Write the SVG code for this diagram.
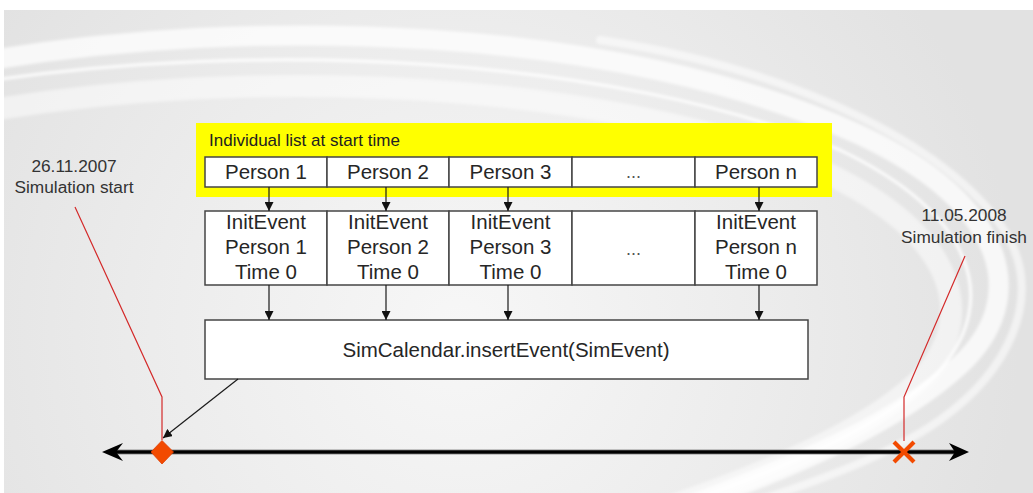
<svg xmlns="http://www.w3.org/2000/svg" width="1033" height="493" viewBox="0 0 1033 493">
  <defs>
    <radialGradient id="bgGlow" cx="460" cy="330" r="560" gradientUnits="userSpaceOnUse">
      <stop offset="0" stop-color="#f7f7f7"/>
      <stop offset="0.55" stop-color="#ececec"/>
      <stop offset="1" stop-color="#e2e2e2"/>
    </radialGradient>
    <marker id="arrow" viewBox="0 0 10 10" refX="10" refY="5" markerWidth="9" markerHeight="9" markerUnits="userSpaceOnUse" orient="auto">
      <path d="M0 0 L10 5 L0 10 Z" fill="#111"/>
    </marker>
    <filter id="soft" x="-10%" y="-10%" width="120%" height="120%">
      <feGaussianBlur stdDeviation="1.5"/>
    </filter>
  </defs>
  <style>
    .box { fill: #ffffff; stroke: #454545; stroke-width: 1.5; }
    .cell { font-family: "Liberation Sans", Arial, sans-serif; font-size: 20.5px; fill: #262626; text-anchor: middle; }
    .dots { font-family: "Liberation Sans", Arial, sans-serif; font-size: 18px; fill: #555; text-anchor: middle; }
    .note { font-family: "Liberation Sans", Arial, sans-serif; font-size: 17.3px; fill: #333; text-anchor: middle; }
    .label { font-family: "Liberation Sans", Arial, sans-serif; font-size: 17px; fill: #222; }
    .conn { stroke: #1a1a1a; stroke-width: 1.2; fill: none; }
    .leader { stroke: #d42a2a; stroke-width: 1.2; fill: none; }
    .swoosh { fill: none; stroke: #ffffff; stroke-linecap: round; }
  </style>

  <!-- backdrop panel with sweeping light bands -->
  <rect x="0" y="0" width="1033" height="493" fill="#ffffff"/>
  <rect x="4" y="10" width="1029" height="483" fill="url(#bgGlow)"/>
  <g filter="url(#soft)">
    <path class="swoosh" stroke-width="20" opacity="0.75" d="M-20 62 C 250 15, 620 25, 860 135 C 1010 205, 1030 300, 960 365 C 900 420, 810 460, 690 505"/>
    <path class="swoosh" stroke-width="3" opacity="0.9" d="M-20 82 C 260 40, 610 55, 840 150 C 975 215, 1000 300, 940 370 C 885 425, 800 462, 680 505"/>
    <path class="swoosh" stroke-width="22" opacity="0.5" d="M-20 112 C 250 65, 600 80, 820 170 C 950 230, 980 310, 925 375 C 875 425, 790 465, 660 510"/>
    <path class="swoosh" stroke-width="8" opacity="0.55" d="M600 40 C 800 70, 960 150, 1010 240 C 1040 300, 1010 370, 940 420 C 890 455, 820 480, 760 500"/>
  </g>
  <rect x="0" y="0" width="1033" height="10" fill="#ffffff"/>
  <rect x="0" y="0" width="4" height="493" fill="#ffffff"/>

  <!-- individual list -->
  <g id="individual-list">
    <rect x="196" y="123" width="636" height="74" fill="#ffff00"/>
    <text class="label" x="209" y="146">Individual list at start time</text>
  </g>
  <g id="person-1">
    <rect class="box" x="205" y="157" width="122" height="30"/>
    <text class="cell" x="266" y="179">Person 1</text>
  </g>
  <g id="person-2">
    <rect class="box" x="327" y="157" width="122" height="30"/>
    <text class="cell" x="388" y="179">Person 2</text>
  </g>
  <g id="person-3">
    <rect class="box" x="449" y="157" width="123" height="30"/>
    <text class="cell" x="510.5" y="179">Person 3</text>
  </g>
  <g id="person-more">
    <rect class="box" x="572" y="157" width="123" height="30"/>
    <text class="dots" x="633.5" y="178">...</text>
  </g>
  <g id="person-n">
    <rect class="box" x="695" y="157" width="122" height="30"/>
    <text class="cell" x="756" y="179">Person n</text>
  </g>

  <!-- init events -->
  <g id="init-1">
    <rect class="box" x="205" y="211" width="122" height="74"/>
    <text class="cell" x="266" y="229">InitEvent</text>
    <text class="cell" x="266" y="254">Person 1</text>
    <text class="cell" x="266" y="279">Time 0</text>
  </g>
  <g id="init-2">
    <rect class="box" x="327" y="211" width="122" height="74"/>
    <text class="cell" x="388" y="229">InitEvent</text>
    <text class="cell" x="388" y="254">Person 2</text>
    <text class="cell" x="388" y="279">Time 0</text>
  </g>
  <g id="init-3">
    <rect class="box" x="449" y="211" width="123" height="74"/>
    <text class="cell" x="510.5" y="229">InitEvent</text>
    <text class="cell" x="510.5" y="254">Person 3</text>
    <text class="cell" x="510.5" y="279">Time 0</text>
  </g>
  <g id="init-more">
    <rect class="box" x="572" y="211" width="123" height="74"/>
    <text class="dots" x="633.5" y="255">...</text>
  </g>
  <g id="init-n">
    <rect class="box" x="695" y="211" width="122" height="74"/>
    <text class="cell" x="756" y="229">InitEvent</text>
    <text class="cell" x="756" y="254">Person n</text>
    <text class="cell" x="756" y="279">Time 0</text>
  </g>

  <!-- calendar insertion -->
  <g id="sim-calendar">
    <rect class="box" x="205" y="320" width="603" height="59"/>
    <text class="cell" x="506" y="357">SimCalendar.insertEvent(SimEvent)</text>
  </g>

  <!-- time axis -->
  <g id="timeline">
    <line x1="110" y1="452" x2="962" y2="452" stroke="#888" stroke-width="6" opacity="0.45"/>
    <line x1="110" y1="452" x2="962" y2="452" stroke="#000" stroke-width="3.5"/>
    <path d="M102 452 L123 443 L116 452 L123 461 Z" fill="#000"/>
    <path d="M969 452 L949 443 L955 452 L949 461 Z" fill="#000"/>
  </g>

  <g id="sim-start">
    <text class="note" x="74" y="172">26.11.2007</text>
    <text class="note" x="74" y="193">Simulation start</text>
    <path d="M151 452 L162 440.5 L173.5 452 L162 464 Z" fill="#f24a00" stroke="#e03c00" stroke-width="0.8"/>
  </g>

  <g id="sim-finish">
    <text class="note" x="964" y="221">11.05.2008</text>
    <text class="note" x="964" y="243">Simulation finish</text>
    <path d="M894 442 L914 462 M914 442 L894 462" stroke="#f24a00" stroke-width="4.2" stroke-linecap="butt"/>
  </g>

  <!-- connectors -->
  <g id="connectors">
    <line class="conn" x1="269" y1="187" x2="269" y2="211" marker-end="url(#arrow)"/>
    <line class="conn" x1="386" y1="187" x2="386" y2="211" marker-end="url(#arrow)"/>
    <line class="conn" x1="508" y1="187" x2="508" y2="211" marker-end="url(#arrow)"/>
    <line class="conn" x1="759" y1="187" x2="759" y2="211" marker-end="url(#arrow)"/>
    <line class="conn" x1="269" y1="285" x2="269" y2="320" marker-end="url(#arrow)"/>
    <line class="conn" x1="386" y1="285" x2="386" y2="320" marker-end="url(#arrow)"/>
    <line class="conn" x1="508" y1="285" x2="508" y2="320" marker-end="url(#arrow)"/>
    <line class="conn" x1="759" y1="285" x2="759" y2="320" marker-end="url(#arrow)"/>
    <line class="conn" x1="238" y1="379" x2="163" y2="438" stroke="#333" marker-end="url(#arrow)"/>
    <polyline class="leader" points="75,207 162,397 162,440"/>
    <polyline class="leader" points="965,256 904,397 904,441"/>
  </g>
</svg>
